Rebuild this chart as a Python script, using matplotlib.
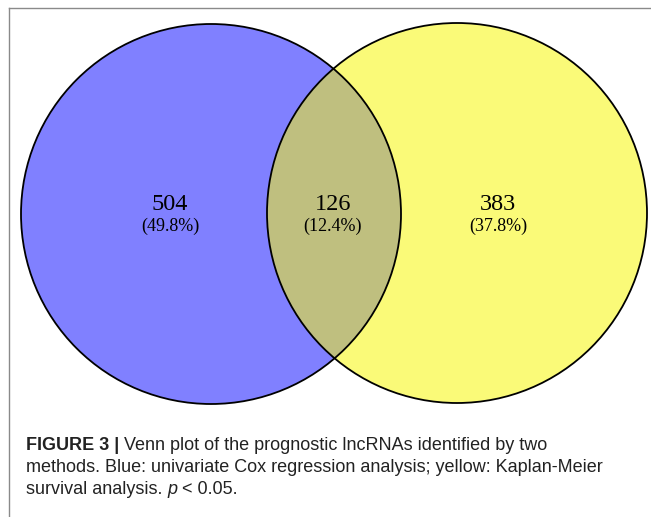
import matplotlib
matplotlib.use("Agg")
import matplotlib.pyplot as plt
from matplotlib.patches import Circle

# Venn counts and shares (left only, both, right only)
set_counts = [504, 126, 383]
set_shares = [49.8, 12.4, 37.8]

caption_lines = [
    [("FIGURE 3 | ", "bold", "normal"),
     ("Venn plot of the prognostic lncRNAs identified by two", "normal", "normal")],
    [("methods. Blue: univariate Cox regression analysis; yellow: Kaplan-Meier", "normal", "normal")],
    [("survival analysis. ", "normal", "normal"), ("p", "normal", "italic"),
     (" < 0.05.", "normal", "normal")],
]

W, H = 651, 517
fig = plt.figure(figsize=(W / 100, H / 100), dpi=100)
ax = fig.add_axes([0, 0, 1, 1])
ax.set_xlim(0, W)
ax.set_ylim(H, 0)
ax.set_aspect("equal")
ax.axis("off")

# frame lines of the figure panel
ax.plot([9, W], [8, 8], color="#8a8a8a", lw=1.0)
ax.plot([9, 9], [8, H], color="#8a8a8a", lw=1.0)

r = 190
left_c = (211, 214)
right_c = (457, 213)

blue = "#8080ff"
yellow = "#fafa78"
olive = "#bfbf7f"

ax.add_patch(Circle(left_c, r, facecolor=blue, edgecolor="none"))
ax.add_patch(Circle(right_c, r, facecolor=yellow, edgecolor="none"))
clip = Circle(right_c, r, transform=ax.transData, facecolor="none", edgecolor="none")
ax.add_patch(clip)
inter = Circle(left_c, r, facecolor=olive, edgecolor="none")
ax.add_patch(inter)
inter.set_clip_path(clip)
ax.add_patch(Circle(left_c, r, facecolor="none", edgecolor="black", lw=1.3))
ax.add_patch(Circle(right_c, r, facecolor="none", edgecolor="black", lw=1.3))

label_x = [170, 333, 498]
for x, n, s in zip(label_x, set_counts, set_shares):
    ax.text(x, 204, str(n), ha="center", va="center", fontsize=17.5,
            family="Liberation Serif")
    ax.text(x, 226, f"({s:.1f}%)", ha="center", va="center", fontsize=13,
            family="Liberation Serif")

# caption, drawn run by run
fig.canvas.draw()
renderer = fig.canvas.get_renderer()
line_y = [446, 468, 490]
for y, runs in zip(line_y, caption_lines):
    x = 26
    for txt, weight, style in runs:
        t = ax.text(x, y, txt, ha="left", va="center", fontsize=13,
                    family="Liberation Sans", weight=weight, style=style,
                    color="#222222")
        bb = t.get_window_extent(renderer)
        x += bb.width

fig.savefig("out.png", dpi=100)
